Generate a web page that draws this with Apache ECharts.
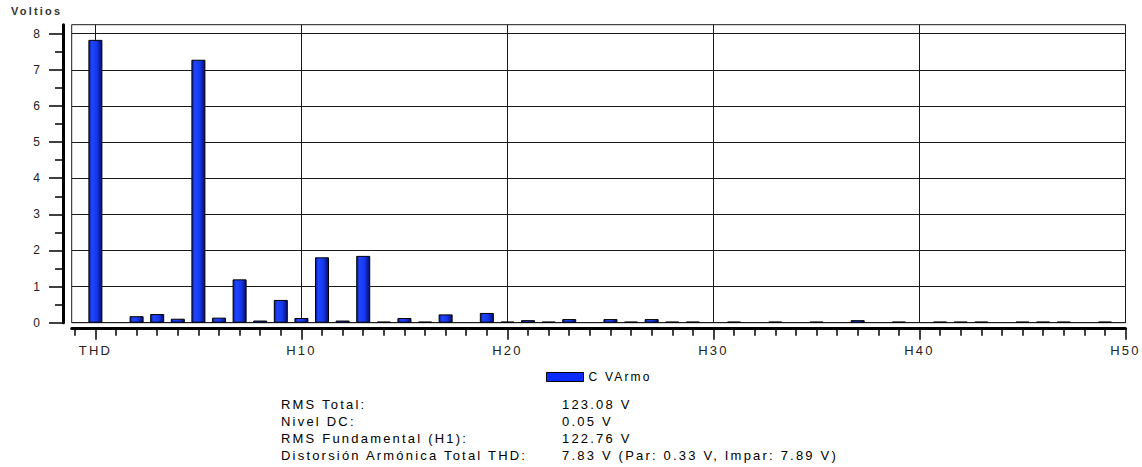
<!DOCTYPE html>
<html>
<head>
<meta charset="utf-8">
<script src="https://cdn.jsdelivr.net/npm/echarts@6/dist/echarts.min.js"></script>
<style>
html,body{margin:0;padding:0;background:#fff;}
#chart{width:1142px;height:467px;}
#chart text{letter-spacing:2.2px;}
</style>
</head>
<body>
<div id="chart"></div>
<script>
// ---- data ----
const categories = ['THD','H1','H2','H3','H4','H5','H6','H7','H8','H9','H10',
  'H11','H12','H13','H14','H15','H16','H17','H18','H19','H20',
  'H21','H22','H23','H24','H25','H26','H27','H28','H29','H30',
  'H31','H32','H33','H34','H35','H36','H37','H38','H39','H40',
  'H41','H42','H43','H44','H45','H46','H47','H48','H49','H50'];
const harmonicVoltage = [7.83, null, 0.18, 0.24, 0.11, 7.28, 0.14, 1.20, 0.06, 0.63, 0.13,
  1.81, 0.06, 1.85, 0.03, 0.13, 0.03, 0.23, null, 0.27, 0.03,
  0.07, 0.03, 0.10, null, 0.10, 0.03, 0.10, 0.03, 0.03, null,
  0.03, null, 0.03, null, 0.03, null, 0.07, null, 0.03, null,
  0.03, 0.03, 0.03, null, 0.03, 0.03, 0.03, null, 0.03, null];
const xTickValues = [0, 10, 20, 30, 40, 50];
const yTickValues = [0, 1, 2, 3, 4, 5, 6, 7, 8];
const seriesName = 'C VArmo';
const yAxisTitle = 'Voltios';
const statLabels = ['RMS Total:', 'Nivel DC:', 'RMS Fundamental (H1):', 'Distorsión Armónica Total THD:'];
const statValues = ['123.08 V', '0.05 V', '122.76 V', '7.83 V (Par: 0.33 V, Impar: 7.89 V)'];

// ---- layout ----
const FONT = '"Liberation Sans", Arial, sans-serif';
const plotLeft = 71.7, plotRight = 1125.5, plotTop = 24.7, plotBottom = 322.7;
const xMin = -1.15, xMax = 50;
const yMax = 8.25, yTickMax = yTickValues[yTickValues.length - 1];
const unitX = (plotRight - plotLeft) / (xMax - xMin);
const tickGridLeft = plotLeft + (xTickValues[0] - xMin) * unitX;
const unitY = (plotBottom - plotTop) / yMax;
const tickGridTop = plotBottom - yTickMax * unitY;
const lineCol = '#1a1a1a';

const chart = echarts.init(document.getElementById('chart'), null, {renderer: 'svg'});

const barGradient = new echarts.graphic.LinearGradient(0, 0, 1, 0, [
  {offset: 0, color: '#0b1a90'},
  {offset: 0.22, color: '#1f46ff'},
  {offset: 0.6, color: '#1638ee'},
  {offset: 1, color: '#050e6e'}
]);

const barData = [];
categories.forEach((c, i) => {
  if (harmonicVoltage[i] !== null) barData.push([i, harmonicVoltage[i]]);
});

const graphics = [{
  type: 'text', x: 11, y: 11,
  style: {text: yAxisTitle, fontSize: 11, fontWeight: 'bold', fontFamily: FONT, fill: '#333', align: 'left', verticalAlign: 'middle'}
}];
statLabels.forEach((t, i) => {
  graphics.push({type: 'text', x: 281, y: 404 + 17.2 * i,
    style: {text: t, fontSize: 13, fontFamily: FONT, fill: '#000', align: 'left', verticalAlign: 'middle'}});
  graphics.push({type: 'text', x: 562, y: 404 + 17.2 * i,
    style: {text: statValues[i], fontSize: 13, fontFamily: FONT, fill: '#000', align: 'left', verticalAlign: 'middle'}});
});

chart.setOption({
  animation: false,
  backgroundColor: '#fff',
  textStyle: {fontFamily: FONT},
  grid: [
    {left: plotLeft, top: plotTop, width: plotRight - plotLeft, height: plotBottom - plotTop,
     show: true, borderColor: lineCol, borderWidth: 1, backgroundColor: 'transparent'},
    {left: tickGridLeft, top: plotTop, width: plotRight - tickGridLeft, height: plotBottom - plotTop},
    {left: plotLeft, top: tickGridTop, width: plotRight - plotLeft, height: plotBottom - tickGridTop}
  ],
  xAxis: [
    {type: 'value', gridIndex: 0, min: xMin, max: xMax, offset: 6,
     axisLine: {show: true, onZero: false, lineStyle: {color: '#000', width: 3}},
     axisTick: {show: true, customValues: [-1], length: 7, lineStyle: {color: '#000', width: 1.5}},
     axisLabel: {show: false}, splitLine: {show: false}},
    {type: 'value', gridIndex: 1, min: xTickValues[0], max: xTickValues[xTickValues.length - 1], interval: 10, offset: 6,
     axisLine: {show: false, onZero: false},
     axisTick: {show: true, length: 11, lineStyle: {color: '#000', width: 1.5}},
     minorTick: {show: true, splitNumber: 10, length: 7, lineStyle: {color: '#000', width: 1.5}},
     axisLabel: {show: true, margin: 15, fontSize: 13, color: '#222', fontFamily: FONT,
       formatter: v => (xTickValues.indexOf(v) >= 0 ? categories[v] : '')},
     splitLine: {show: true, lineStyle: {color: lineCol, width: 1}}},
    {type: 'value', gridIndex: 2, show: false, min: 0, max: 1}
  ],
  yAxis: [
    {type: 'value', gridIndex: 0, min: 0, max: yMax, offset: 8.7,
     axisLine: {show: true, onZero: false, lineStyle: {color: '#000', width: 3}},
     axisTick: {show: false}, axisLabel: {show: false}, splitLine: {show: false}},
    {type: 'value', gridIndex: 1, show: false, min: 0, max: 1},
    {type: 'value', gridIndex: 2, min: yTickValues[0], max: yTickMax, interval: 1, offset: 8.7,
     axisLine: {show: false, onZero: false},
     axisTick: {show: true, length: 14, lineStyle: {color: '#000', width: 1.5}},
     minorTick: {show: true, splitNumber: 2, length: 8, lineStyle: {color: '#000', width: 1.5}},
     axisLabel: {show: true, margin: 21, fontSize: 12, color: '#222', fontFamily: FONT},
     splitLine: {show: true, lineStyle: {color: lineCol, width: 1}}}
  ],
  legend: {
    show: true, left: 546, top: 371, padding: 0, icon: 'rect',
    itemWidth: 37, itemHeight: 9, data: [seriesName],
    itemStyle: {color: '#0a2cff', borderColor: '#000', borderWidth: 1},
    textStyle: {fontSize: 12, color: '#000', fontFamily: FONT}
  },
  series: [{
    type: 'bar', name: seriesName, xAxisIndex: 0, yAxisIndex: 0,
    barWidth: 14, data: barData,
    itemStyle: {color: barGradient, borderColor: '#000', borderWidth: 1}
  }],
  graphic: graphics
});
</script>
</body>
</html>
